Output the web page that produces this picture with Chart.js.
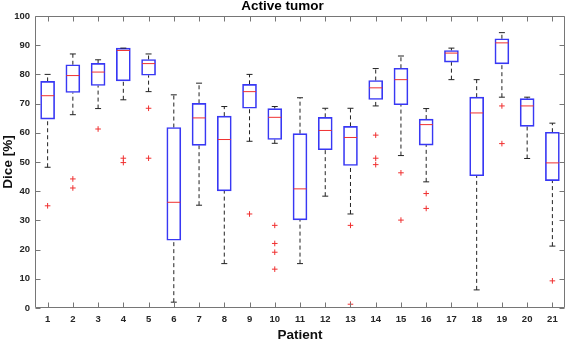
<!DOCTYPE html>
<html>
<head>
<meta charset="utf-8">
<script src="https://cdn.jsdelivr.net/npm/chart.js@4.4.0/dist/chart.umd.min.js"></script>
<style>
  html, body { margin: 0; padding: 0; background: #fff; }
  #wrap { width: 566px; height: 343px; }
</style>
</head>
<body>
<div id="wrap"><canvas id="chart"></canvas></div>
<script>
// box plot stats per patient
const patients = [1, 2, 3, 4, 5, 6, 7, 8, 9, 10, 11, 12, 13, 14, 15, 16, 17, 18, 19, 20, 21];
const whiskerHigh = [80, 87, 85, 89, 87, 73, 77, 69, 80, 69, 72, 68.4, 68.4, 82, 86.3, 68.3, 89, 78.2, 94.3, 72.2, 63.3];
const q3 = [77.6, 83.3, 83.8, 89, 85.1, 61.8, 70.1, 65.7, 76.6, 68.3, 59.7, 65.3, 62.2, 77.9, 82.1, 64.7, 88.2, 72.2, 92.2, 71.7, 60.2];
const median = [72.7, 79.6, 80.8, 88.2, 83.7, 36.2, 65.1, 57.7, 74.1, 65.3, 40.8, 60.8, 58.4, 75.4, 78.2, 62.8, 87.3, 66.8, 90.8, 69.2, 49.7];
const q1 = [64.7, 73.8, 76.2, 77.8, 79.7, 23.2, 55.7, 40.1, 68.4, 57.7, 30.2, 54.2, 48.8, 71.4, 69.6, 55.8, 84.2, 45.3, 83.6, 62.2, 43.6];
const whiskerLow = [48.2, 66.2, 68.3, 71.3, 74.1, 2, 35.2, 15.2, 57.1, 56.4, 15.2, 38.3, 32.2, 69.2, 52.2, 43.2, 78.2, 6.2, 72.2, 51.2, 21.2];
const outliers = [
  [35], [44.2, 41.1], [61.3], [51.3, 49.8], [68.4, 51.3], [], [], [],
  [32.2], [28.3, 22.1, 19.1, 13.3], [], [], [28.3, 1.3], [59.2, 51.3, 49.1],
  [46.3, 30.1], [39.2, 34.1], [], [], [69.2, 56.3], [], [9.3]
];
const yTicks = [0, 10, 20, 30, 40, 50, 60, 70, 80, 90, 100];

const boxBlue = "#3838f4";
const medRed = "#f03030";
const frameGray = "#767676";
const textDark = "#262626";
const fontFam = "'Liberation Sans', Arial, sans-serif";

// whiskers as one broken line: q3->high, low->q1, with null gaps
const whiskerPts = [];
patients.forEach((p, i) => {
  whiskerPts.push({ x: p, y: q3[i] }, { x: p, y: whiskerHigh[i] }, { x: p, y: null });
  whiskerPts.push({ x: p, y: whiskerLow[i] }, { x: p, y: q1[i] }, { x: p, y: null });
});
const capPts = [];
patients.forEach((p, i) => {
  capPts.push({ x: p, y: whiskerHigh[i] }, { x: p, y: whiskerLow[i] });
});
const outlierPts = [];
patients.forEach((p, i) => outliers[i].forEach((v) => outlierPts.push({ x: p, y: v })));

// MATLAB style frame with inward ticks on all four sides
const framePlugin = {
  id: "frame",
  afterDraw(chart) {
    const { ctx, chartArea: a, scales } = chart;
    const L = Math.round(a.left) + 0.5, R = Math.round(a.right) - 0.5;
    const T = Math.round(a.top) + 0.5, B = Math.round(a.bottom) - 0.5;
    ctx.save();
    ctx.setLineDash([]);
    ctx.strokeStyle = frameGray;
    ctx.lineWidth = 1;
    ctx.beginPath();
    ctx.moveTo(L, T); ctx.lineTo(R, T);
    ctx.moveTo(R, T); ctx.lineTo(R, B);
    ctx.moveTo(R, B); ctx.lineTo(L, B);
    ctx.moveTo(L, B); ctx.lineTo(L, T);
    scales.x.ticks.forEach((t) => {
      const x = Math.round(scales.x.getPixelForValue(t.value)) + 0.5;
      ctx.moveTo(x, B); ctx.lineTo(x, B - 5);
      ctx.moveTo(x, T); ctx.lineTo(x, T + 5);
    });
    scales.y.ticks.forEach((t) => {
      const y = Math.round(scales.y.getPixelForValue(t.value)) + 0.5;
      ctx.moveTo(L, y); ctx.lineTo(L + 5, y);
      ctx.moveTo(R, y); ctx.lineTo(R - 5, y);
    });
    ctx.stroke();
    ctx.restore();
  },
};

new Chart(document.getElementById("chart"), {
  data: {
    datasets: [
      {
        type: "bar",
        data: patients.map((p, i) => ({ x: p, y: [q1[i], q3[i]] })),
        backgroundColor: "rgba(0,0,0,0)",
        borderColor: boxBlue,
        borderWidth: 1,
        borderSkipped: false,
        barThickness: 14,
        grouped: false,
        order: 2,
      },
      {
        type: "line",
        data: whiskerPts,
        borderColor: "#222",
        borderWidth: 1,
        borderDash: [4, 3],
        pointRadius: 0,
        spanGaps: false,
        order: 3,
      },
      {
        type: "scatter",
        data: capPts,
        pointStyle: "line",
        pointRadius: 3,
        borderColor: "#222",
        borderWidth: 1,
        order: 1,
      },
      {
        type: "scatter",
        data: patients.map((p, i) => ({ x: p, y: median[i] })),
        pointStyle: "line",
        pointRadius: 6.5,
        borderColor: medRed,
        borderWidth: 1,
        order: 0,
      },
      {
        type: "scatter",
        data: outlierPts,
        pointStyle: "cross",
        pointRadius: 2.8,
        borderColor: medRed,
        borderWidth: 1,
        order: 0,
      },
    ],
  },
  options: {
    responsive: true,
    maintainAspectRatio: false,
    animation: false,
    layout: { autoPadding: false, padding: { left: 0, right: 1, top: 0, bottom: 0 } },
    plugins: {
      legend: { display: false },
      tooltip: { enabled: false },
      title: {
        display: true,
        text: "Active tumor",
        color: "#000",
        font: { family: fontFam, size: 13.5, weight: "bold", lineHeight: 1 },
        padding: { top: 0, bottom: 2.5 },
      },
    },
    scales: {
      x: {
        type: "linear",
        min: 0.5,
        max: 21.5,
        offset: false,
        afterBuildTicks: (scale) => { scale.ticks = patients.map((v) => ({ value: v })); },
        afterFit: (scale) => { scale.height = 35; },
        grid: { display: false, drawTicks: false },
        border: { display: false },
        ticks: {
          padding: 6,
          autoSkip: false,
          maxRotation: 0,
          color: textDark,
          font: { family: fontFam, size: 9.5, weight: "bold" },
        },
        title: {
          display: true,
          text: "Patient",
          color: "#111",
          padding: 0,
          font: { family: fontFam, size: 13.5, weight: "bold", lineHeight: 1.2 },
        },
      },
      y: {
        type: "linear",
        min: 0,
        max: 100,
        afterBuildTicks: (scale) => { scale.ticks = yTicks.map((v) => ({ value: v })); },
        afterFit: (scale) => { scale.width = 35; },
        grid: { display: false, drawTicks: false },
        border: { display: false },
        ticks: {
          padding: 5,
          color: textDark,
          font: { family: fontFam, size: 9.5, weight: "bold" },
        },
        title: {
          display: true,
          text: "Dice [%]",
          color: "#111",
          padding: 0,
          font: { family: fontFam, size: 13.5, weight: "bold", lineHeight: 1.2 },
        },
      },
    },
  },
  plugins: [framePlugin],
});
</script>
</body>
</html>
